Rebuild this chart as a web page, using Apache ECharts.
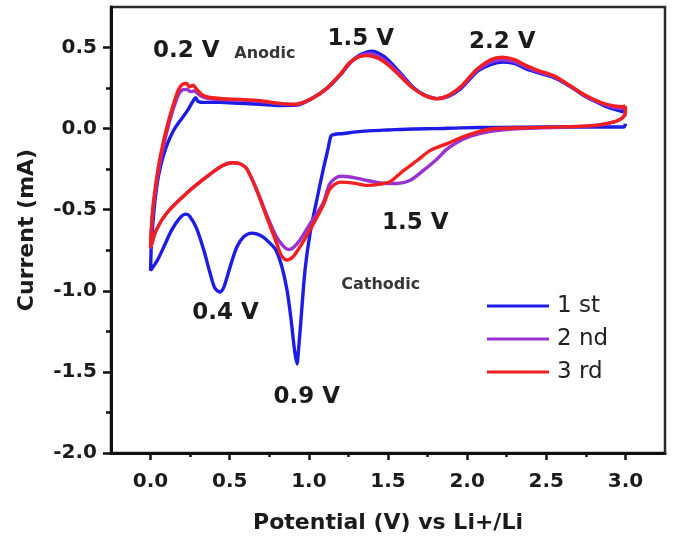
<!DOCTYPE html>
<html>
<head>
<meta charset="utf-8">
<title>Cyclic voltammetry</title>
<script src="https://cdn.jsdelivr.net/npm/echarts@6/dist/echarts.min.js"></script>
<style>
  html, body { margin: 0; padding: 0; background: #ffffff; }
  #chart { width: 679px; height: 543px; }
</style>
</head>
<body>
<div id="chart"></div>
<script>
// Cyclic voltammograms, [potential (V), current (mA)] pairs, in sweep order.

// 1st cycle: cathodic sweep 3.0 V -> 0 V
const cycle1Cathodic = [
  [3.0, 0.03], [2.99, 0.01], [2.8, 0.01], [2.5, 0.01], [2.2, 0.008], [1.96, 0.005],
  [1.8, 0.0], [1.66, -0.002], [1.5, -0.008], [1.4, -0.012], [1.3, -0.02], [1.22, -0.03],
  [1.16, -0.036], [1.14, -0.045], [1.12, -0.13], [1.09, -0.255], [1.05, -0.44],
  [1.008, -0.644], [0.976, -0.87], [0.95, -1.18], [0.935, -1.36], [0.925, -1.45],
  [0.91, -1.37], [0.888, -1.18], [0.862, -0.995], [0.83, -0.853], [0.792, -0.749],
  [0.754, -0.706], [0.703, -0.663], [0.64, -0.644], [0.59, -0.665], [0.545, -0.73],
  [0.5, -0.86], [0.463, -0.977], [0.437, -1.007], [0.406, -0.983], [0.374, -0.884],
  [0.336, -0.749], [0.29, -0.614], [0.247, -0.54], [0.222, -0.527], [0.184, -0.552],
  [0.133, -0.626], [0.089, -0.718], [0.044, -0.81], [0.0, -0.875]
];
// 1st cycle: anodic sweep 0 V -> 3.0 V
const cycle1Anodic = [
  [0.0, -0.875], [0.006, -0.69], [0.019, -0.534], [0.032, -0.41], [0.051, -0.287],
  [0.076, -0.183], [0.108, -0.09], [0.146, -0.01], [0.184, 0.045], [0.234, 0.113],
  [0.268, 0.17], [0.285, 0.19], [0.3, 0.168], [0.34, 0.162], [0.437, 0.162],
  [0.564, 0.156], [0.69, 0.15], [0.817, 0.143], [0.92, 0.145], [1.027, 0.19],
  [1.115, 0.248], [1.198, 0.33], [1.261, 0.405], [1.324, 0.455], [1.4, 0.478],
  [1.47, 0.448], [1.534, 0.39], [1.597, 0.322], [1.66, 0.254], [1.736, 0.205],
  [1.812, 0.185], [1.882, 0.199], [1.958, 0.245], [2.022, 0.31], [2.066, 0.355],
  [2.148, 0.395], [2.231, 0.41], [2.307, 0.4], [2.37, 0.37], [2.446, 0.345],
  [2.548, 0.314], [2.611, 0.283], [2.674, 0.245], [2.738, 0.203], [2.801, 0.172],
  [2.864, 0.142], [2.928, 0.12], [2.99, 0.102]
];

// 2nd cycle
const cycle2Cathodic = [
  [3.0, 0.13], [3.0, 0.1], [2.985, 0.07], [2.94, 0.045], [2.814, 0.02], [2.59, 0.008],
  [2.34, 0.0], [2.148, -0.017], [2.022, -0.047], [1.927, -0.09], [1.863, -0.134],
  [1.812, -0.185], [1.724, -0.257], [1.641, -0.318], [1.559, -0.338], [1.451, -0.335],
  [1.343, -0.314], [1.261, -0.298], [1.198, -0.294], [1.134, -0.338], [1.09, -0.46],
  [1.018, -0.57], [0.944, -0.687], [0.9, -0.735], [0.87, -0.745], [0.835, -0.72],
  [0.797, -0.67], [0.733, -0.53], [0.67, -0.375], [0.606, -0.245], [0.56, -0.215],
  [0.52, -0.21], [0.45, -0.23], [0.353, -0.298], [0.226, -0.4], [0.1, -0.523],
  [0.036, -0.626], [0.0, -0.74]
];
const cycle2Anodic = [
  [0.0, -0.74], [0.006, -0.61], [0.018, -0.48], [0.034, -0.36], [0.054, -0.24],
  [0.08, -0.115], [0.105, -0.01], [0.13, 0.08], [0.155, 0.155], [0.18, 0.215],
  [0.205, 0.24], [0.232, 0.242], [0.25, 0.228], [0.275, 0.232], [0.3, 0.215],
  [0.33, 0.195], [0.37, 0.185], [0.437, 0.18], [0.564, 0.176], [0.69, 0.168],
  [0.817, 0.153], [0.913, 0.148], [1.027, 0.19], [1.115, 0.25], [1.198, 0.333],
  [1.261, 0.408], [1.324, 0.45], [1.385, 0.462], [1.45, 0.44], [1.52, 0.388],
  [1.59, 0.322], [1.655, 0.255], [1.733, 0.205], [1.81, 0.185], [1.882, 0.202],
  [1.958, 0.252], [2.022, 0.318], [2.066, 0.362], [2.148, 0.41], [2.225, 0.425],
  [2.3, 0.412], [2.37, 0.38], [2.446, 0.352], [2.548, 0.32], [2.611, 0.286],
  [2.674, 0.248], [2.738, 0.206], [2.801, 0.176], [2.864, 0.15], [2.928, 0.132],
  [2.98, 0.125], [3.0, 0.13]
];

// 3rd cycle
const cycle3Cathodic = [
  [3.0, 0.14], [3.0, 0.1], [2.985, 0.07], [2.94, 0.045], [2.814, 0.02], [2.59, 0.011],
  [2.34, 0.005], [2.148, -0.002], [2.0, -0.041], [1.874, -0.092], [1.768, -0.134],
  [1.686, -0.195], [1.6, -0.257], [1.515, -0.325], [1.451, -0.342], [1.369, -0.35],
  [1.28, -0.336], [1.198, -0.33], [1.134, -0.37], [1.092, -0.47], [1.018, -0.606],
  [0.944, -0.729], [0.9, -0.79], [0.86, -0.81], [0.825, -0.78], [0.797, -0.708],
  [0.733, -0.544], [0.67, -0.38], [0.606, -0.245], [0.56, -0.215], [0.52, -0.21],
  [0.45, -0.23], [0.353, -0.298], [0.226, -0.4], [0.1, -0.523], [0.036, -0.626],
  [0.0, -0.735]
];
const cycle3Anodic = [
  [0.0, -0.735], [0.006, -0.595], [0.016, -0.472], [0.032, -0.349], [0.051, -0.226],
  [0.076, -0.103], [0.101, 0.002], [0.127, 0.094], [0.152, 0.174], [0.177, 0.242],
  [0.203, 0.274], [0.226, 0.278], [0.247, 0.258], [0.268, 0.268], [0.29, 0.245],
  [0.323, 0.212], [0.361, 0.195], [0.437, 0.186], [0.564, 0.18], [0.69, 0.172],
  [0.817, 0.156], [0.913, 0.15], [1.027, 0.19], [1.115, 0.25], [1.198, 0.335],
  [1.261, 0.41], [1.324, 0.445], [1.37, 0.45], [1.44, 0.432], [1.51, 0.385],
  [1.58, 0.32], [1.65, 0.255], [1.73, 0.205], [1.81, 0.185], [1.882, 0.205],
  [1.958, 0.258], [2.022, 0.325], [2.066, 0.37], [2.148, 0.425], [2.22, 0.44],
  [2.3, 0.425], [2.37, 0.39], [2.446, 0.36], [2.548, 0.325], [2.611, 0.29],
  [2.674, 0.25], [2.738, 0.21], [2.801, 0.18], [2.864, 0.155], [2.928, 0.14],
  [2.98, 0.135], [3.0, 0.14]
];

const cycleNames = ['1 st', '2 nd', '3 rd'];
const cycleColors = ['#1c1ce6', '#9a32d2', '#f21f1f'];

// Axis ticks
const xMajorTicks = [0, 0.5, 1.0, 1.5, 2.0, 2.5, 3.0];
const xMinorTicks = [0.25, 0.75, 1.25, 1.75, 2.25, 2.75];
const yMajorTicks = [-2.0, -1.5, -1.0, -0.5, 0.0, 0.5];
const yMinorTicks = [-1.75, -1.25, -0.75, -0.25, 0.25];

// Peak annotations: text, potential, current where the text sits
const noteText = ['0.2 V', 'Anodic', '1.5 V', '2.2 V', '1.5 V', 'Cathodic', '0.4 V', '0.9 V'];
const noteV    = [0.226, 0.722, 1.328, 2.222, 1.673, 1.454, 0.474, 0.987];
const noteI    = [0.476, 0.463, 0.55, 0.533, -0.58, -0.964, -1.134, -1.652];
const noteSmall = ['Anodic', 'Cathodic'];

const FONT = '"DejaVu Sans", "Liberation Sans", sans-serif';
const INK = '#1b1b1b';

const cycles = [
  cycle1Cathodic.concat(cycle1Anodic.slice(1)),
  cycle2Cathodic.concat(cycle2Anodic.slice(1)),
  cycle3Cathodic.concat(cycle3Anodic.slice(1))
];

const cycleSeries = cycles.map((pts, k) => ({
  name: cycleNames[k],
  type: 'line',
  xAxisIndex: 0,
  yAxisIndex: 0,
  data: pts,
  showSymbol: false,
  smooth: 0.3,
  z: 3 + k,
  lineStyle: { color: cycleColors[k], width: 3.4 },
  itemStyle: { color: cycleColors[k] },
  emphasis: { disabled: true }
}));

const labelStyle = {
  fontFamily: FONT, fontWeight: 'bold', fontSize: 20, color: INK
};

const chart = echarts.init(document.getElementById('chart'), null, { renderer: 'canvas' });
chart.setOption({
  animation: false,
  backgroundColor: '#ffffff',
  grid: {
    left: 111, right: 14, top: 7, bottom: 90,
    show: true, borderColor: '#2a2a2a', borderWidth: 2.5, backgroundColor: 'transparent'
  },
  legend: {
    data: cycleNames,
    orient: 'vertical',
    left: 482,
    top: 289,
    icon: 'rect',
    itemWidth: 62,
    itemHeight: 3,
    itemGap: 9,
    selectedMode: false,
    textStyle: { fontFamily: FONT, fontSize: 23, color: '#222', lineHeight: 24, padding: [0, 0, 0, 3] }
  },
  xAxis: [
    {
      type: 'value', min: -0.25, max: 3.25, position: 'bottom',
      name: 'Potential (V) vs Li+/Li', nameLocation: 'middle', nameGap: 59,
      nameTextStyle: { fontFamily: FONT, fontWeight: 'bold', fontSize: 22, color: INK },
      axisLine: { show: true, onZero: false, lineStyle: { color: '#111', width: 3 } },
      axisTick: { show: true, inside: false, length: 7, customValues: xMajorTicks, lineStyle: { color: '#111', width: 2.5 } },
      axisLabel: Object.assign({ margin: 19, customValues: xMajorTicks, formatter: v => Number(v).toFixed(1) }, labelStyle),
      splitLine: { show: false }
    },
    {
      type: 'value', min: -0.25, max: 3.25, position: 'bottom',
      axisLine: { show: false, onZero: false },
      axisTick: { show: true, inside: false, length: 4, customValues: xMinorTicks, lineStyle: { color: '#111', width: 2.5 } },
      axisLabel: { show: false },
      splitLine: { show: false }
    }
  ],
  yAxis: [
    {
      type: 'value', min: -2.0, max: 0.75, position: 'left',
      name: 'Current (mA)', nameLocation: 'middle', nameGap: 73,
      nameTextStyle: { fontFamily: FONT, fontWeight: 'bold', fontSize: 22, color: INK },
      axisLine: { show: true, onZero: false, lineStyle: { color: '#111', width: 3 } },
      axisTick: { show: true, inside: false, length: 8, customValues: yMajorTicks, lineStyle: { color: '#111', width: 2.5 } },
      axisLabel: Object.assign({ margin: 14, customValues: yMajorTicks, formatter: v => Number(v).toFixed(1) }, labelStyle),
      splitLine: { show: false }
    },
    {
      type: 'value', min: -2.0, max: 0.75, position: 'left',
      axisLine: { show: false, onZero: false },
      axisTick: { show: true, inside: false, length: 5, customValues: yMinorTicks, lineStyle: { color: '#111', width: 2.5 } },
      axisLabel: { show: false },
      splitLine: { show: false }
    }
  ],
  series: cycleSeries
});

// Peak annotations placed in data coordinates through the axes
const notes = noteText.map((t, i) => {
  const p = chart.convertToPixel({ xAxisIndex: 0, yAxisIndex: 0 }, [noteV[i], noteI[i]]);
  const small = noteSmall.indexOf(t) >= 0;
  return {
    type: 'text',
    x: p[0],
    y: p[1],
    z: 20,
    silent: true,
    style: {
      text: t,
      align: 'center',
      verticalAlign: 'middle',
      font: 'bold ' + (small ? 16 : 23) + 'px ' + FONT,
      fill: small ? '#363636' : INK
    }
  };
});
chart.setOption({ graphic: notes });
</script>
</body>
</html>
